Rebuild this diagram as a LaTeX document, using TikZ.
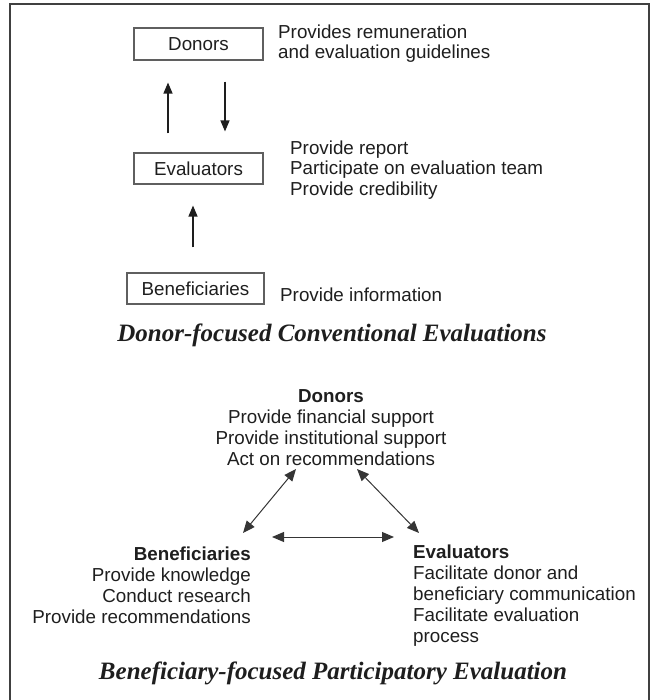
\documentclass[tikz,border=0pt]{standalone}
\usepackage{fontspec}
\setmainfont{Liberation Sans}
\newfontfamily\ttlfont{Liberation Serif}
\usetikzlibrary{arrows.meta}
\definecolor{ink}{RGB}{30,30,30}
\definecolor{boxline}{RGB}{95,95,95}
\begin{document}
\begin{tikzpicture}[x=1pt,y=-1pt,
  txt/.style={font=\fontsize{18.8}{20.5}\selectfont, text=ink, inner sep=0pt},
  txtb/.style={font=\fontsize{18.8}{21}\selectfont, text=ink, inner sep=0pt},
  box/.style={draw=boxline, line width=1.1pt, inner sep=0pt, font=\fontsize{18.8}{20.5}\selectfont, text=ink},
  arr/.style={draw=ink, line width=1.2pt, -{Triangle[length=11pt,width=9pt]}},
  darr/.style={draw=ink!90, line width=1pt, {Triangle[length=12pt,width=10pt]}-{Triangle[length=12pt,width=10pt]}},
  frame/.style={draw=ink!85, line width=1.4pt},
  ttl/.style={font=\ttlfont\bfseries\itshape\fontsize{25}{28}\selectfont, text=ink, inner sep=0pt}]
\useasboundingbox (0,0) rectangle (657,700);
\draw[frame] (10,701) -- (10,4) -- (649,4) -- (649,701);

% top section
\node[box, minimum width=129pt, minimum height=32pt] (don) at (198.5,44) {Donors};
\node[box, minimum width=129pt, minimum height=31pt] (ev) at (198.5,168.5) {Evaluators};
\node[box, minimum width=137pt, minimum height=31pt] (ben) at (195.5,288.5) {Beneficiaries};

\node[txt, anchor=west, align=left] (dondesc) at (278,43.5) {Provides remuneration\\and evaluation guidelines};
\node[txt, anchor=west, align=left] (evdesc) at (290,170) {Provide report\\Participate on evaluation team\\Provide credibility};
\node[txt, anchor=west] (bendesc) at (280,295) {Provide information};

\draw[arr, shorten <=19pt, shorten >=22pt] ([xshift=-30.5pt]ev.north) -- ([xshift=-30.5pt]don.south);
\draw[arr, shorten <=21pt, shorten >=21pt] ([xshift=26.5pt]don.south) -- ([xshift=26.5pt]ev.north);
\draw[arr, shorten <=25pt, shorten >=21pt] ([xshift=-2.5pt]ben.north) -- ([xshift=-5.5pt]ev.south);

\node[ttl] (t1) at (332,335) {Donor-focused Conventional Evaluations};

% bottom section
\node[txtb, align=center] (pd) at (331,428) {\textbf{Donors}\\Provide financial support\\Provide institutional support\\Act on recommendations};
\node[txtb, align=right, anchor=east] (pb) at (251,585.5) {\textbf{Beneficiaries}\\Provide knowledge\\Conduct research\\Provide recommendations};
\node[txtb, align=left, anchor=west] (pe) at (413,595.5) {\textbf{Evaluators}\\Facilitate donor and\\beneficiary communication\\Facilitate evaluation\\process};

\coordinate (dl) at (296,469);
\coordinate (bl) at (243,533);
\coordinate (dr) at (357,469);
\coordinate (er) at (419,533);
\coordinate (hl) at (272,537);
\coordinate (hr) at (394,537);
\draw[darr] (dl) -- (bl);
\draw[darr] (dr) -- (er);
\draw[darr] (hl) -- (hr);

\node[ttl] (t2) at (333,673) {Beneficiary-focused Participatory Evaluation};
\end{tikzpicture}
\end{document}
